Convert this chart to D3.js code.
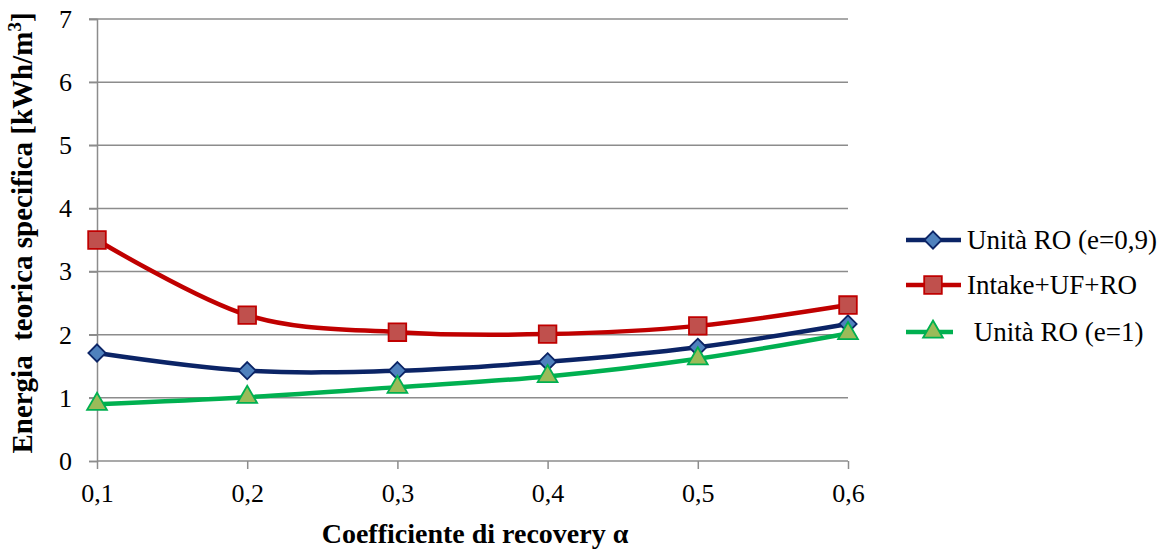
<!DOCTYPE html>
<html><head><meta charset="utf-8">
<script src="https://cdn.jsdelivr.net/npm/d3@7/dist/d3.min.js"></script>
<style>body{margin:0;background:#fff}svg{display:block}text{font-family:"Liberation Serif","DejaVu Serif",serif}</style>
</head><body><svg id="c" width="1161" height="550"></svg>
<script>
const alphas = [0.1, 0.2, 0.3, 0.4, 0.5, 0.6];
const xTickLabels = ["0,1", "0,2", "0,3", "0,4", "0,5", "0,6"];
const yTicks = [0, 1, 2, 3, 4, 5, 6, 7];
const roE09 = [1.71, 1.43, 1.43, 1.57, 1.80, 2.17];
const intakeUfRo = [3.50, 2.31, 2.04, 2.01, 2.14, 2.47];
const roE1 = [0.90, 1.01, 1.17, 1.34, 1.62, 2.02];
const seriesNames = ["Unità RO (e=0,9)", "Intake+UF+RO", "\u00a0Unità RO (e=1)"];

const series = [
  {name: seriesNames[0], values: roE09, line: "#0b2466", fill: "#4f81bd", stroke: "#0b2466", sym: d3.symbolDiamond2, size: 190},
  {name: seriesNames[1], values: intakeUfRo, line: "#c00000", fill: "#c0504d", stroke: "#c00000", sym: d3.symbolSquare, size: 310},
  {name: seriesNames[2], values: roE1, line: "#00b050", fill: "#9bbb59", stroke: "#00b050", sym: d3.symbolTriangle, size: 170}
];

const svg = d3.select("#c");
const x = d3.scaleLinear().domain([0.1, 0.6]).range([97, 848]);
const y = d3.scaleLinear().domain([0, 7]).range([461, 19]);
const grid = "#8c8c8c";
const fs = 26;

// gridlines
svg.append("g").selectAll("line").data(yTicks.slice(1)).join("line")
  .attr("x1", 89).attr("x2", 848).attr("y1", d => y(d)).attr("y2", d => y(d))
  .attr("stroke", grid).attr("stroke-width", 1.5);

// y axis
const yAxis = svg.append("g").attr("transform", "translate(97,0)")
  .call(d3.axisLeft(y).tickValues(yTicks).tickSize(8).tickPadding(17).tickFormat(d3.format("d")));
yAxis.select(".domain").attr("stroke", grid).attr("stroke-width", 1.5);
yAxis.selectAll(".tick line").attr("stroke", grid).attr("stroke-width", 1.5);
yAxis.selectAll("text").attr("font-size", fs).attr("fill", "#000").attr("font-family", "Liberation Serif");

// x axis
const xAxis = svg.append("g").attr("transform", "translate(0,461)")
  .call(d3.axisBottom(x).tickValues(alphas).tickSize(8).tickPadding(15).tickFormat((d, i) => xTickLabels[i]));
xAxis.select(".domain").attr("stroke", grid).attr("stroke-width", 1.5).attr("d", "M97,0H848");
xAxis.selectAll(".tick line").attr("stroke", grid).attr("stroke-width", 1.5);
xAxis.selectAll("text").attr("font-size", fs).attr("fill", "#000").attr("font-family", "Liberation Serif");

// lines
const lineGen = d3.line().x((d, i) => x(alphas[i])).y(d => y(d)).curve(d3.curveCatmullRom.alpha(0));
series.forEach(s => {
  svg.append("path").attr("d", lineGen(s.values)).attr("fill", "none")
    .attr("stroke", s.line).attr("stroke-width", 4.5);
});
series.forEach(s => {
  svg.append("g").selectAll("path").data(s.values).join("path")
    .attr("transform", (d, i) => `translate(${x(alphas[i])},${y(d)})`)
    .attr("d", d3.symbol().type(s.sym).size(s.size))
    .attr("fill", s.fill).attr("stroke", s.stroke).attr("stroke-width", 1.8);
});

// legend
const legY = [240, 285, 332];
series.forEach((s, i) => {
  const g = svg.append("g").attr("transform", `translate(0,${legY[i]})`);
  g.append("line").attr("x1", 906).attr("x2", i === 2 ? 953 : 961).attr("y1", 0).attr("y2", 0)
    .attr("stroke", s.line).attr("stroke-width", 4.5);
  g.append("path").attr("transform", "translate(933,0)")
    .attr("d", d3.symbol().type(s.sym).size(s.size))
    .attr("fill", s.fill).attr("stroke", s.stroke).attr("stroke-width", 1.8);
  g.append("text").attr("x", 967).attr("y", 9).attr("font-size", 27)
    .style("white-space", "pre").text(s.name);
});

// axis titles
svg.append("text").attr("x", 475).attr("y", 543).attr("text-anchor", "middle")
  .attr("font-size", 28).attr("font-weight", "bold").text("Coefficiente di recovery α");
const yt = svg.append("text").attr("transform", "translate(32,233) rotate(-90)")
  .attr("text-anchor", "middle").attr("font-size", 29).attr("font-weight", "bold")
  .style("white-space", "pre");
yt.append("tspan").text("Energia  teorica specifica [kWh/m");
yt.append("tspan").attr("font-size", 19).attr("dy", -11).text("3");
yt.append("tspan").attr("dy", 11).text("]");
</script></body></html>
